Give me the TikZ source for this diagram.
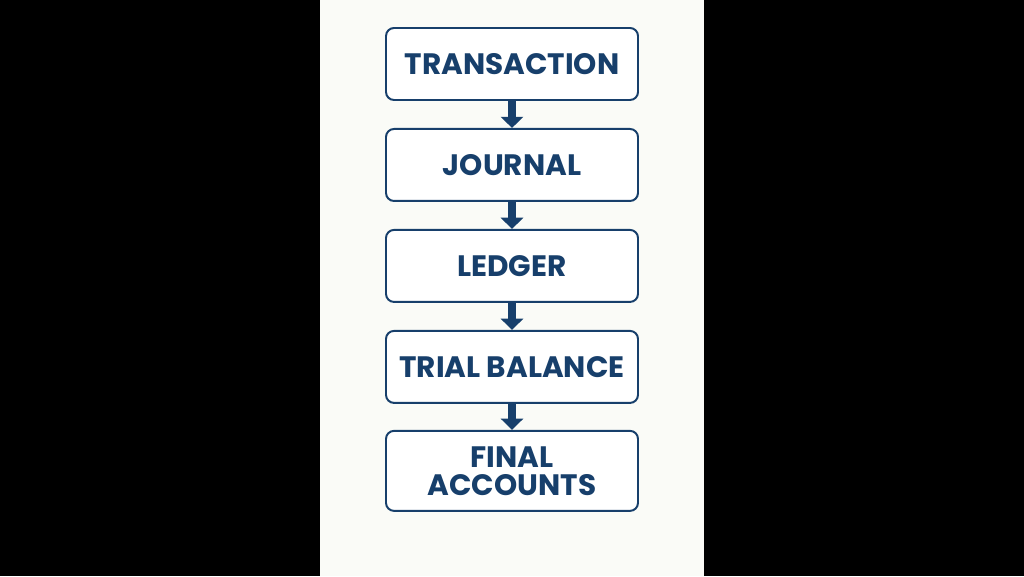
\documentclass[tikz,border=0pt]{standalone}
\usepackage{fontspec}
\setmainfont{Poppins}
\usetikzlibrary{positioning,arrows.meta}
\definecolor{navy}{HTML}{173F6B}
\definecolor{paper}{HTML}{FAFBF7}
\tikzset{
  stage/.style={draw=navy, line width=1.4pt, rounded corners=0.2cm, fill=white,
    minimum width=6.3cm, minimum height=1.8cm, align=center, text=navy,
    font=\fontsize{21}{20}\selectfont\bfseries},
  flow/.style={navy, line width=0.2cm, -{Triangle[width=0.55cm, length=0.28cm]}}
}
\begin{document}
\begin{tikzpicture}[node distance=0.675cm]

\fill[black] (0,0) rectangle (25.6,14.4);
\fill[paper] (8,0) rectangle (17.6,14.4);

\node[stage] (trans) at (12.8,12.8) {TRANSACTION};
\node[stage, below=of trans] (journal) {JOURNAL};
\node[stage, below=of journal] (ledger) {LEDGER};
\node[stage, below=of ledger] (trial) {TRIAL BALANCE};
\node[stage, below=0.65cm of trial, minimum height=2.0cm] (final) {FINAL\\ACCOUNTS};

\draw[flow] (trans) -- (journal);
\draw[flow] (journal) -- (ledger);
\draw[flow] (ledger) -- (trial);
\draw[flow] (trial) -- (final);

\end{tikzpicture}
\end{document}
